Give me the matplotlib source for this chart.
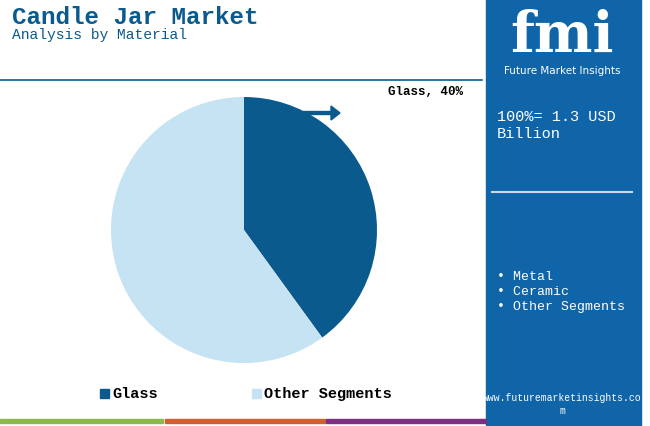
import matplotlib
matplotlib.use("Agg")
import matplotlib.pyplot as plt
from matplotlib.patches import Rectangle, FancyArrow

categories = ["Glass", "Other Segments"]
values = [40, 60]
colors = ["#0b5a8e", "#c5e3f3"]
panel_items = ["Metal", "Ceramic", "Other Segments"]
W, H = 650, 426
fig = plt.figure(figsize=(W/100, H/100), dpi=100)
bg = fig.add_axes([0, 0, 1, 1]); bg.set_xlim(0, W); bg.set_ylim(H, 0); bg.axis("off")
mono = "Liberation Mono"
BLUE = "#0b5a8e"
# right panel
bg.add_patch(Rectangle((486, 0), 155, 426, color="#0f65a8"))
bg.text(562, 36, "fmi", color="white", fontsize=40, fontweight="bold", family="DejaVu Serif", ha="center", va="center")
bg.text(562, 71, "Future Market Insights", color="white", fontsize=7.5, ha="center", va="center")
bg.text(497, 117, "100%= 1.3 USD", color="white", fontsize=11, family=mono, va="center")
bg.text(497, 134, "Billion", color="white", fontsize=11, family=mono, va="center")
bg.plot([492, 632], [192, 192], color="#c8d8e8", lw=1.5)
for i, t in enumerate(panel_items):
    bg.text(497, 277 + 15*i, "• " + t, color="white", fontsize=9.5, family=mono, va="center")
bg.text(562, 398, "www.futuremarketinsights.co", color="white", fontsize=7, family=mono, ha="center", va="center")
bg.text(562, 411, "m", color="white", fontsize=7, family=mono, ha="center", va="center")
# title
bg.text(12, 18, "Candle Jar Market", fontsize=17.5, fontweight="bold", family=mono, color=BLUE, va="center")
bg.text(12, 35, "Analysis by Material", fontsize=10.5, family=mono, color=BLUE, va="center")
bg.plot([0, 482], [80, 80], color=BLUE, lw=1.2)
# bottom bars
for x0, x1, c in [(0, 163, "#8db84a"), (165, 325, "#d35f2e"), (326, 486, "#7d2f84")]:
    bg.add_patch(Rectangle((x0, 419), x1-x0, 4, color=c))
# arrow and label
bg.add_patch(FancyArrow(303, 113, 28, 0, width=3, head_width=14, head_length=9, color=BLUE, length_includes_head=False))
bg.text(425, 92, f"{categories[0]}, {values[0]}%", fontsize=9, fontweight="bold", family=mono, ha="center", va="center")
# legend
for x, cat, c in [(100, categories[0], colors[0]), (252, categories[1], colors[1])]:
    bg.add_patch(Rectangle((x, 389), 9, 9, color=c))
    bg.text(x+12, 394, cat, fontsize=11, fontweight="bold", family=mono, va="center")
# pie
r = 133
ax = fig.add_axes([(244-r)/W, 1-(230+r)/H, 2*r/W, 2*r/H])
ax.pie(values, colors=colors, startangle=90, counterclock=False)
ax.set_xlim(-1, 1); ax.set_ylim(-1, 1)
ax.set_aspect("auto")
fig.savefig("out.png", dpi=100)
